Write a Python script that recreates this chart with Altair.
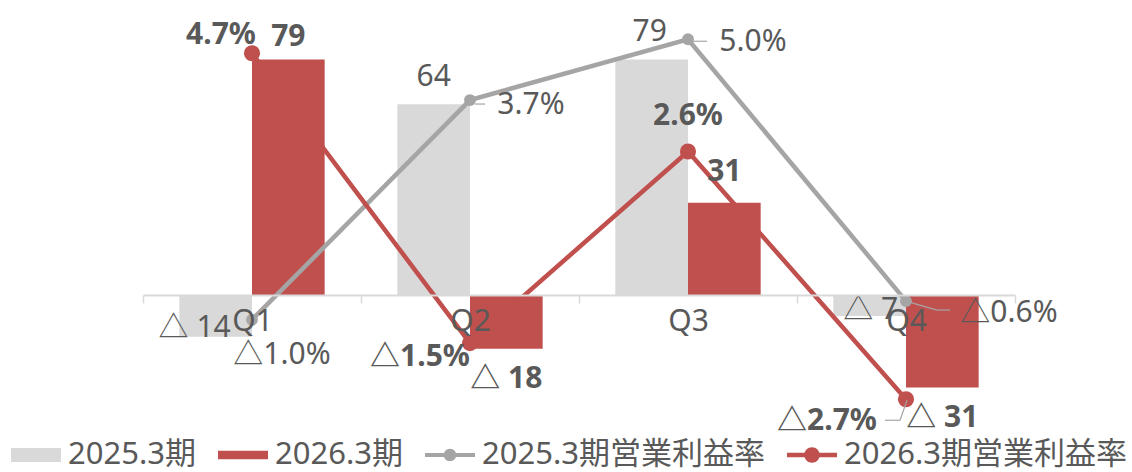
import altair as alt
import pandas as pd

# ---------------- data ----------------
quarters = ["Q1", "Q2", "Q3", "Q4"]
sales_2025 = [-14, 64, 79, -7]
sales_2026 = [79, -18, 31, -31]
margin_2025 = [-1.0, 3.7, 5.0, -0.6]
margin_2026 = [4.7, -1.5, 2.6, -2.7]
bar_labels_2025 = ["△ 14", "64", "79", "△ 7"]
bar_labels_2026 = ["79", "△ 18", "31", "△ 31"]
margin_labels_2025 = ["△1.0%", "3.7%", "5.0%", "△0.6%"]
margin_labels_2026 = ["4.7%", "△1.5%", "2.6%", "△2.7%"]
series_names = ["2025.3期", "2026.3期", "2025.3期営業利益率", "2026.3期営業利益率"]

# ---------------- styles ----------------
GRAY_BAR = "#D9D9D9"
RED = "#C0504D"
GRAY_LINE = "#A5A5A5"
TEXT = "#595959"
FONT = "Noto Sans, Noto Sans CJK JP"
FS = 30
LEG_FS = 31

bar_domain = [-41.9, 95.6]
line_domain = [-3.144, 5.626]

# label offsets (pixels) relative to the anchor: (dx, dy)
bar_off_2025 = [(-21, -9), (0, -27), (-2, -27), (1, -6)]
bar_off_2026 = [(0, -22), (0, 30), (0, -31), (0, 31)]
line_off_2025 = [(30, 35), (61, 5), (65, 3), (103, 12)]
line_off_2026 = [(-31, -18), (-50, 14), (0, -35), (-79, 22)]

bar_df = pd.DataFrame(
    {"q": quarters * 2,
     "s": [series_names[0]] * 4 + [series_names[1]] * 4,
     "v": sales_2025 + sales_2026,
     "t": bar_labels_2025 + bar_labels_2026}
)
line_df = pd.DataFrame(
    {"q": quarters * 2,
     "s": [series_names[2]] * 4 + [series_names[3]] * 4,
     "v": margin_2025 + margin_2026,
     "t": margin_labels_2025 + margin_labels_2026}
)

x_axis = alt.Axis(zindex=1, labelAngle=0)
x_enc = alt.X("q:N", scale=alt.Scale(domain=quarters, paddingInner=0, paddingOuter=0),
              title=None, axis=x_axis)
xoff_enc = alt.XOffset("s:N", scale=alt.Scale(domain=series_names[:2], paddingInner=0, paddingOuter=0.5))
y_bar = alt.Y("v:Q", scale=alt.Scale(domain=bar_domain, nice=False, zero=False), axis=None)
y_line = alt.Y("v:Q", scale=alt.Scale(domain=line_domain, nice=False, zero=False), axis=None)
color_scale = alt.Scale(domain=series_names, range=[GRAY_BAR, RED, GRAY_LINE, RED])

shape_paths = [
    "M-1,-0.28H1V0.28H-1Z",
    "M-1,-0.17H1V0.17H-1Z",
    "M-1,-0.08H1V0.08H-1Z M0.25,0A0.25,0.25 0 1,1 -0.25,0A0.25,0.25 0 1,1 0.25,0Z",
    "M-1,-0.09H1V0.09H-1Z M0.31,0A0.31,0.31 0 1,1 -0.31,0A0.31,0.31 0 1,1 0.31,0Z",
]
leg = alt.Legend(title=None, orient="none", legendX=-132, legendY=420, direction="horizontal",
                 symbolSize=2500, symbolStrokeWidth=0, labelFont=FONT, labelFontSize=LEG_FS,
                 labelColor=TEXT, labelLimit=0, labelOffset=7, columnPadding=22, padding=0,
                 symbolOpacity=1)
color_enc = alt.Color("s:N", scale=color_scale, legend=leg)

bars = alt.Chart(bar_df).mark_bar(strokeWidth=0).encode(
    x=x_enc, xOffset=xoff_enc, y=y_bar, color=color_enc,
)

lines = alt.Chart(line_df).mark_line(strokeWidth=4.5).encode(
    x=x_enc, y=y_line, color=color_enc, order=alt.Order("q:N"),
)
points = alt.Chart(line_df).mark_point(filled=True, opacity=1).encode(
    x=x_enc, y=y_line, color=color_enc,
    size=alt.Size("s:N", scale=alt.Scale(domain=series_names[2:], range=[140, 260]), legend=None),
)

layers = [bars, lines, points]

# leader lines (start offset, end offset) relative to the point
leaders = [
    (series_names[2], "Q2", (5, 4), (15, 4)),
    (series_names[2], "Q3", (5, 2), (19, 2)),
    (series_names[2], "Q4", (0, 0), (31, 9)),
    (series_names[2], "Q4", (31, 9), (44, 9)),
    (series_names[3], "Q4", (1, 1), (-6, 21)),
    (series_names[3], "Q4", (-6, 21), (-21, 21)),
]
for s, q, a, b in leaders:
    d = line_df[(line_df.s == s) & (line_df.q == q)]
    layers.append(
        alt.Chart(d).mark_rule(color=GRAY_LINE, strokeWidth=1.2,
                               xOffset=a[0], yOffset=a[1], x2Offset=b[0], y2Offset=b[1]).encode(
            x=x_enc, x2=alt.X2("q:N"), y=y_line, y2=alt.Y2("v:Q"))
    )

# bar labels
for i in range(8):
    d = bar_df.iloc[[i]]
    dx, dy = (bar_off_2025 + bar_off_2026)[i]
    layers.append(
        alt.Chart(d).mark_text(dx=dx, dy=dy, font=FONT, fontSize=FS, color=TEXT,
                               fontWeight="bold" if i >= 4 else "normal", baseline="middle").encode(
            x=x_enc, xOffset=xoff_enc, y=y_bar, text="t:N")
    )
# margin labels
for i in range(8):
    d = line_df.iloc[[i]]
    dx, dy = (line_off_2025 + line_off_2026)[i]
    layers.append(
        alt.Chart(d).mark_text(dx=dx, dy=dy, font=FONT, fontSize=FS, color=TEXT,
                               fontWeight="bold" if i >= 4 else "normal", baseline="middle").encode(
            x=x_enc, y=y_line, text="t:N")
    )

# legend helper (clipped out of view)
legend_df = pd.DataFrame({"q": ["Q1"] * 4, "s": series_names, "v": [1000] * 4})
legend_layer = alt.Chart(legend_df).mark_point(filled=True, clip=True).encode(
    x=x_enc, y=y_bar, color=color_enc,
    shape=alt.Shape("s:N", scale=alt.Scale(domain=series_names, range=shape_paths), legend=leg),
)
layers.append(legend_layer)

chart = alt.layer(*layers).resolve_scale(y="independent").properties(
    width=872, height=410,
    padding={"left": 143, "top": 10, "right": 117, "bottom": 52},
    autosize=alt.AutoSizeParams(type="none"),
).configure_view(stroke=None).configure_axisX(
    offset=-125, domainColor=GRAY_BAR, domainWidth=2, tickColor=GRAY_BAR, tickWidth=1.5,
    tickSize=8, tickBand="extent", labelFont=FONT, labelFontSize=FS, labelColor=TEXT,
    labelPadding=3, grid=False, title=None,
)

chart.save("out.html", embed_options={"renderer": "svg", "actions": False})
